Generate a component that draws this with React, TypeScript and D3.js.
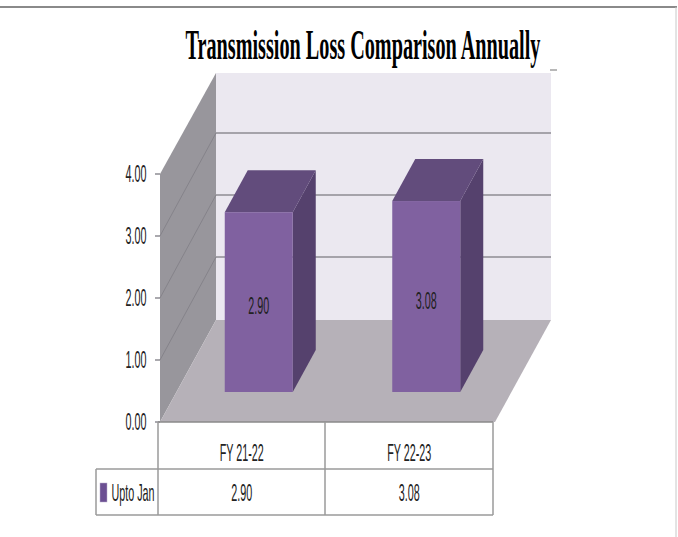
import * as d3 from 'd3';

const categories = ['FY 21-22', 'FY 22-23'];
const seriesName = 'Upto Jan';
const values = [2.9, 3.08];
const yTicks = [0, 1, 2, 3, 4];

const width = 678;
const height = 537;

// front plane of the fake 3D box
const left = 160;
const right = 495;
const floorY = 422;
const topY = 174;
// how far the back wall sits from the front plane
const depthX = 56;
const depthY = 102;

const x = d3.scaleBand<string>().domain(categories).range([left, right]);
const y = d3.scaleLinear().domain([0, 4]).range([floorY, topY]);
const fmt = d3.format('.2f');

const barWidth = 68;
const barDepthX = 23;
const barDepthY = 42;
// bars stand partway into the floor
const barShiftX = 16;
const barShiftY = 30;

const poly = (pts: [number, number][]) => pts.map(p => p.join(',')).join(' ');

const textFont = "'Liberation Sans', sans-serif";
const grid = '#8e8c93';
const tableLine = '#9a9a9a';
const tableBottom = 515;
const tableMid = 469;
const legendLeft = 96;

// the original image is squeezed sideways, so text is scaled rather than set narrow
const Label = ({ cx, cy, children }: any) => (
  <text
    transform={`translate(${cx},${cy}) scale(0.45,1)`}
    textAnchor="middle"
    dominantBaseline="central"
    fontFamily={textFont}
    fontSize={24}
    fill="#222"
  >
    {children}
  </text>
);

const App = () => {
  return (
    <svg
      width={width}
      height={height}
      style={{ position: 'absolute', left: 0, top: 0, background: '#fff' }}
    >
      {/* outer frame */}
      <line x1={0} x2={677} y1={7} y2={7} stroke="#8a8a8a" strokeWidth={2} />
      <line x1={676} x2={676} y1={7} y2={537} stroke="#c8c8c8" strokeWidth={1} />

      <text
        transform="translate(363,59) scale(0.47,1)"
        textAnchor="middle"
        fontFamily="'Liberation Serif', serif"
        fontWeight="bold"
        fontSize={43}
        fill="#000"
      >
        Transmission Loss Comparison Annually
      </text>

      {/* walls and floor */}
      <polygon
        points={poly([
          [left + depthX, y(4) - depthY + 1],
          [right + depthX, y(4) - depthY + 1],
          [right + depthX, floorY - depthY],
          [left + depthX, floorY - depthY],
        ])}
        fill="#ebe8f0"
      />
      <polygon
        points={poly([
          [left, y(4)],
          [left + depthX, y(4) - depthY + 1],
          [left + depthX, floorY - depthY],
          [left, floorY],
        ])}
        fill="#98969c"
      />
      <polygon
        points={poly([
          [left, floorY],
          [left + depthX, floorY - depthY],
          [right + depthX, floorY - depthY],
          [right, floorY],
        ])}
        fill="#b6b1b8"
      />

      {/* gridlines, running over the side wall and along the back */}
      {yTicks.map(t => (
        <g key={t}>
          {t > 0 && t < 4 && (
            <line
              x1={left}
              y1={y(t)}
              x2={left + depthX}
              y2={y(t) - depthY - 1}
              stroke="#85838a"
              strokeWidth={1}
            />
          )}
          {t > 0 && t < 4 && (
            <line
              x1={left + depthX}
              x2={right + depthX}
              y1={y(t) - depthY - 1}
              y2={y(t) - depthY - 1}
              stroke={grid}
              strokeWidth={1.6}
            />
          )}
          <line x1={left - 5} x2={left} y1={y(t)} y2={y(t)} stroke={grid} strokeWidth={1.5} />
          <Label cx={left - 24} cy={y(t)}>
            {fmt(t)}
          </Label>
        </g>
      ))}
      <line x1={550} x2={557} y1={70} y2={70} stroke="#a0a0a0" strokeWidth={1.5} />

      {/* bars */}
      {categories.map((c, i) => {
        const bx = (x(c) as number) + x.bandwidth() / 2 + barShiftX - barWidth / 2 - 1;
        const base = floorY - barShiftY;
        const top = y(values[i]) - barShiftY;
        return (
          <g key={c}>
            <polygon
              points={poly([
                [bx + barWidth, top],
                [bx + barWidth + barDepthX, top - barDepthY],
                [bx + barWidth + barDepthX, base - barDepthY],
                [bx + barWidth, base],
              ])}
              fill="#55416d"
            />
            <polygon
              points={poly([
                [bx, top],
                [bx + barDepthX, top - barDepthY],
                [bx + barWidth + barDepthX, top - barDepthY],
                [bx + barWidth, top],
              ])}
              fill="#624c7c"
            />
            <rect x={bx} y={top} width={barWidth} height={base - top} fill="#8061a0" />
            <Label cx={bx + barWidth / 2} cy={(top + base) / 2 + 4}>
              {fmt(values[i])}
            </Label>
          </g>
        );
      })}

      {/* data table */}
      <line x1={left - 2} x2={right - 2} y1={floorY} y2={floorY} stroke="#8a8a8a" strokeWidth={1.5} />
      <line x1={legendLeft} x2={right - 2} y1={tableMid} y2={tableMid} stroke={tableLine} strokeWidth={1.5} />
      <line x1={legendLeft} x2={right - 2} y1={tableBottom} y2={tableBottom} stroke={tableLine} strokeWidth={1.5} />
      <line x1={legendLeft} x2={legendLeft} y1={tableMid} y2={tableBottom} stroke={tableLine} strokeWidth={1.5} />
      <line x1={left - 2} x2={left - 2} y1={floorY} y2={tableBottom} stroke={tableLine} strokeWidth={1.5} />
      <line x1={right - 2} x2={right - 2} y1={floorY} y2={tableBottom} stroke={tableLine} strokeWidth={1.5} />
      <line x1={325} x2={325} y1={floorY} y2={tableBottom} stroke={tableLine} strokeWidth={1.5} />
      {categories.map((c, i) => (
        <g key={c}>
          <Label cx={(x(c) as number) + x.bandwidth() / 2 - 2} cy={453}>
            {c}
          </Label>
          <Label cx={(x(c) as number) + x.bandwidth() / 2 - 2} cy={493}>
            {fmt(values[i])}
          </Label>
        </g>
      ))}
      <rect x={100} y={483} width={7} height={19} fill="#6b4f92" stroke="#b9abc9" strokeWidth={0.5} />
      <Label cx={133} cy={493}>
        {seriesName}
      </Label>
    </svg>
  );
};

export default App;
